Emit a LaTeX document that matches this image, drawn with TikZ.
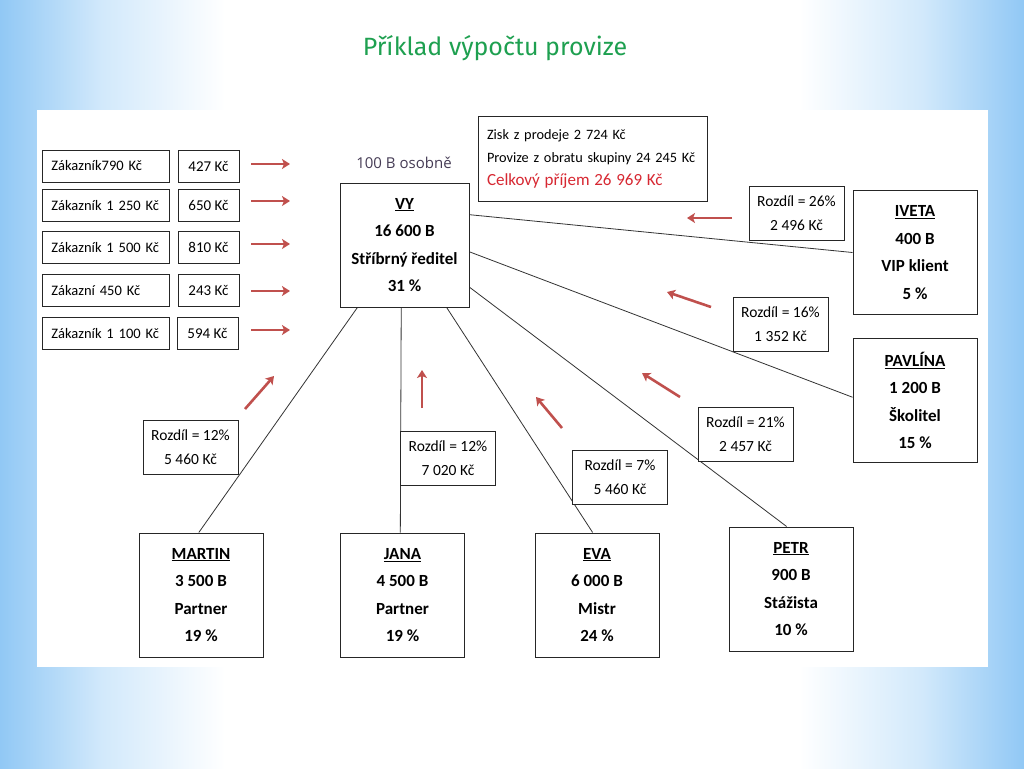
\documentclass[tikz,border=0pt]{standalone}
\usepackage{fontspec}
\setmainfont{Carlito}
\newfontfamily\titlefont{Fira Sans}
\newfontfamily\notefont{Open Sans}
\usetikzlibrary{arrows.meta,backgrounds}

\definecolor{slideblue}{RGB}{145,200,245}
\definecolor{slidelight}{RGB}{210,233,251}
\definecolor{titlegreen}{RGB}{30,160,80}
\definecolor{arrowred}{RGB}{192,80,77}
\definecolor{totalred}{RGB}{215,40,50}
\definecolor{notegray}{RGB}{70,60,85}

\pgfdeclarehorizontalshading{slideshade}{100bp}{color(0bp)=(slideblue); color(25bp)=(slideblue); color(30bp)=(slidelight); color(36bp)=(white); color(64bp)=(white); color(70bp)=(slidelight); color(75bp)=(slideblue); color(100bp)=(slideblue)}

\tikzset{
  person/.style={draw=black!85,line width=1pt,fill=white,minimum width=124pt,
    minimum height=124pt,align=center,font=\bfseries\fontsize{17}{27.5}\selectfont},
  diffbox/.style={draw=black!85,line width=0.9pt,fill=white,minimum width=95pt,
    minimum height=54pt,align=center,font=\fontsize{15.5}{24}\selectfont},
  custbox/.style={draw=black!85,line width=0.9pt,fill=white,minimum height=32pt,
    anchor=west,text width=113pt,inner xsep=7pt,align=left,font=\fontsize{14.5}{17}\selectfont},
  valbox/.style={draw=black!85,line width=0.9pt,fill=white,minimum width=61pt,
    minimum height=32pt,font=\fontsize{15}{17}\selectfont},
  sumbox/.style={draw=black!85,line width=0.9pt,fill=white,minimum width=229pt,
    minimum height=85pt,text width=211pt,inner xsep=9pt,align=left,font=\fontsize{14.3}{23}\selectfont},
  link/.style={draw=black!80,line width=0.8pt},
  redarrow/.style={arrowred,line width=2.6pt,-{Stealth[length=8pt,width=10pt,inset=2pt]}}
}

\begin{document}
\begin{tikzpicture}[x=1pt,y=-1pt]
  \useasboundingbox (0,0) rectangle (1024,768);

  \node[font=\titlefont\fontsize{25}{30}\selectfont,text=titlegreen] (title) at (495,48) {Příklad výpočtu provize};
  \node[font=\notefont\fontsize{15}{18}\selectfont,text=notegray] (own) at (404,163) {100 B osobně};

  % zakaznici
  \node[custbox] (c1) at (42,166) {\hspace{2pt}Zákazník790 Kč};
  \node[custbox] (c2) at (42,205.5) {\hspace{2pt}Zákazník 1 250 Kč};
  \node[custbox] (c3) at (42,247.5) {\hspace{2pt}Zákazník 1 500 Kč};
  \node[custbox] (c4) at (42,290.5) {\hspace{2pt}Zákazní 450 Kč};
  \node[custbox] (c5) at (42,333.5) {\hspace{2pt}Zákazník 1 100 Kč};
  \node[valbox] (v1) at (208.5,166) {427 Kč};
  \node[valbox] (v2) at (208.5,205.5) {650 Kč};
  \node[valbox] (v3) at (208.5,247.5) {810 Kč};
  \node[valbox] (v4) at (208.5,290.5) {243 Kč};
  \node[valbox] (v5) at (207.5,333.5) {594 Kč};

  \node[sumbox] (summary) at (592.5,158.5) {Zisk z prodeje 2 724 Kč\\
    Provize z obratu skupiny 24 245 Kč\\
    {\color{totalred}\fontsize{17}{23}\selectfont Celkový příjem 26 969 Kč}};

  % vy a skupina
  \node[person,minimum width=129pt] (vy) at (404.5,245) {\underline{VY}\\16 600 B\\Stříbrný ředitel\\31 \%};
  \node[person] (iveta) at (915,252.5) {\underline{IVETA}\\400 B\\VIP klient\\5 \%};
  \node[person] (pavlina) at (915,400.5) {\underline{PAVLÍNA}\\1 200 B\\Školitel\\15 \%};
  \node[person] (martin) at (201,595) {\underline{MARTIN}\\3 500 B\\Partner\\19 \%};
  \node[person] (jana) at (402.5,595) {\underline{JANA}\\4 500 B\\Partner\\19 \%};
  \node[person] (eva) at (597,595) {\underline{EVA}\\6 000 B\\Mistr\\24 \%};
  \node[person] (petr) at (791,589) {\underline{PETR}\\900 B\\Stážista\\10 \%};

  % rozdily
  \node[diffbox] (d-iveta) at (796.5,213.5) {Rozdíl = 26\%\\2 496 Kč};
  \node[diffbox] (d-pavlina) at (780.5,324) {Rozdíl = 16\%\\1 352 Kč};
  \node[diffbox] (d-petr) at (745.5,434) {Rozdíl = 21\%\\2 457 Kč};
  \node[diffbox] (d-martin) at (190.5,447.5) {Rozdíl = 12\%\\5 460 Kč};
  \node[diffbox] (d-jana) at (448,458) {Rozdíl = 12\%\\7 020 Kč};
  \node[diffbox] (d-eva) at (620,477) {Rozdíl = 7\%\\5 460 Kč};

  \begin{scope}[on background layer]
    \shade[shading=slideshade] (0,0) rectangle (1024,768);
    \fill[white] (37,110) rectangle (988,667);
    \draw[link] (vy.25) -- (iveta.west);
    \draw[link] (vy.354) -- (pavlina.177);
    \draw[link] (vy.327) -- (petr.94);
    \draw[link] (vy.304) -- (eva.94);
    \draw[link] (vy.267) -- (jana.92);
    \draw[link] (vy.233) -- (martin.92);
  \end{scope}

  % sipky provize
  \foreach \y in {164,201,244,291,330}
    \draw[redarrow] (251,\y) -- (290,\y);
  \draw[redarrow] (732,218) -- (687,218);
  \draw[redarrow] (711,307) -- (667,292);
  \draw[redarrow] (680,397) -- (642,373);
  \draw[redarrow] (562,428) -- (536,397);
  \draw[redarrow] (422,408) -- (422,370);
  \draw[redarrow] (245,409) -- (274,376);
\end{tikzpicture}
\end{document}
